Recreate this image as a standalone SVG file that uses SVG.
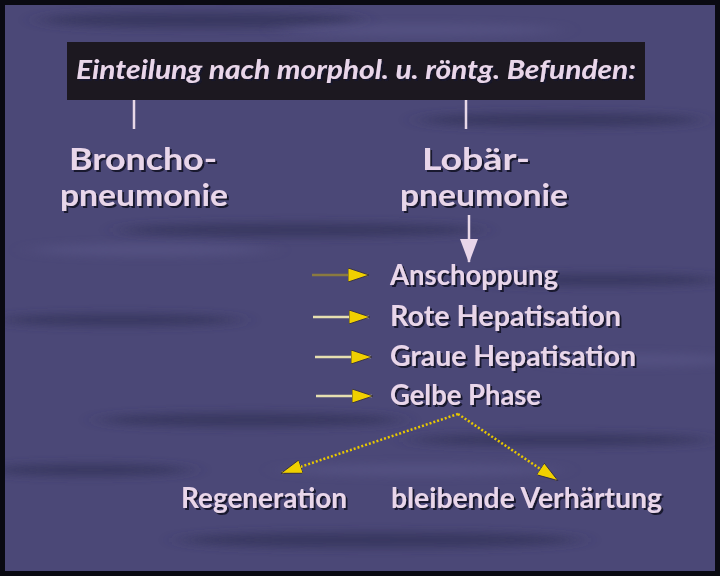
<svg xmlns="http://www.w3.org/2000/svg" width="720" height="576" viewBox="0 0 720 576">
<defs>
<style>
.t{font-family:Lato,"Liberation Sans",sans-serif;font-weight:700;fill:#e9d6ea;filter:url(#sh)}
.big{font-size:30px}
.mid{font-size:29px}
.hdr{font-size:27px;font-style:italic}
.ln{stroke:#e8d8e8;stroke-width:2.5}
.harr{stroke:#e6dfb0;stroke-width:2.5}
.dot{stroke:#e8c800;stroke-width:2.5;stroke-dasharray:2 2;fill:none}
</style>
<filter id="sh" x="-5%" y="-20%" width="110%" height="140%">
<feDropShadow dx="2" dy="2" stdDeviation="0.6" flood-color="#15122a" flood-opacity="0.95"/>
</filter>
<filter id="blur" x="-20%" y="-200%" width="140%" height="500%">
<feGaussianBlur stdDeviation="12 4"/>
</filter>
<marker id="ya" markerWidth="22" markerHeight="14" refX="20" refY="7" orient="auto" markerUnits="userSpaceOnUse">
<path d="M0,0 L21,7 L0,14 Z" fill="#f0d000" stroke="#2a2640" stroke-width="0.8"/>
</marker>
<marker id="wa" markerWidth="18" markerHeight="24" refX="9" refY="23" orient="0" markerUnits="userSpaceOnUse">
<path d="M0,0 L18,0 L9,24 Z" fill="#e9d6ea"/>
</marker>
</defs>
<rect width="720" height="576" fill="#4b4877"/>
<g filter="url(#blur)" fill="#36345c" opacity="0.8">
<ellipse cx="200" cy="20" rx="160" ry="8"/>
<ellipse cx="560" cy="120" rx="140" ry="7"/>
<ellipse cx="300" cy="230" rx="180" ry="7"/>
<ellipse cx="120" cy="320" rx="120" ry="6"/>
<ellipse cx="600" cy="280" rx="120" ry="6"/>
<ellipse cx="250" cy="420" rx="150" ry="7"/>
<ellipse cx="560" cy="440" rx="150" ry="6"/>
<ellipse cx="380" cy="540" rx="200" ry="8"/>
<ellipse cx="90" cy="470" rx="100" ry="6"/>
</g>
<g filter="url(#blur)" fill="#5a5788" opacity="0.6">
<ellipse cx="420" cy="30" rx="140" ry="6"/>
<ellipse cx="150" cy="250" rx="120" ry="6"/>
<ellipse cx="640" cy="360" rx="100" ry="6"/>
<ellipse cx="420" cy="470" rx="140" ry="6"/>
</g>
<rect x="0" y="0" width="720" height="576" fill="none" stroke="#0a0a12" stroke-width="10"/>

<g id="header">
<rect x="67" y="42" width="578" height="58" fill="#1c1820"/>
<text class="t hdr" x="76" y="79" textLength="560" lengthAdjust="spacingAndGlyphs">Einteilung nach morphol. u. röntg. Befunden:</text>
</g>
<g id="broncho">
<text class="t big" x="143" y="170" text-anchor="middle" textLength="148" lengthAdjust="spacingAndGlyphs">Broncho-</text>
<text class="t big" x="144" y="206" text-anchor="middle" textLength="168" lengthAdjust="spacingAndGlyphs">pneumonie</text>
</g>
<g id="lobaer">
<text class="t big" x="476" y="170" text-anchor="middle" textLength="108" lengthAdjust="spacingAndGlyphs">Lobär-</text>
<text class="t big" x="484" y="206" text-anchor="middle" textLength="168" lengthAdjust="spacingAndGlyphs">pneumonie</text>
</g>
<g id="anschoppung"><text class="t mid" x="390" y="285" textLength="168" lengthAdjust="spacingAndGlyphs">Anschoppung</text></g>
<g id="rote"><text class="t mid" x="390" y="326" textLength="231" lengthAdjust="spacingAndGlyphs">Rote Hepatisation</text></g>
<g id="graue"><text class="t mid" x="390" y="366" textLength="246" lengthAdjust="spacingAndGlyphs">Graue Hepatisation</text></g>
<g id="gelbe"><text class="t mid" x="390" y="405" textLength="151" lengthAdjust="spacingAndGlyphs">Gelbe Phase</text></g>
<g id="regeneration"><text class="t mid" x="181" y="508" textLength="166" lengthAdjust="spacingAndGlyphs">Regeneration</text></g>
<g id="verhaertung"><text class="t mid" x="391" y="508" textLength="271" lengthAdjust="spacingAndGlyphs">bleibende Verhärtung</text></g>

<g id="connectors">
<line class="ln" x1="134" y1="100" x2="134" y2="129"/>
<line class="ln" x1="466" y1="100" x2="466" y2="129"/>
<line class="ln" x1="469" y1="215" x2="469" y2="262" marker-end="url(#wa)"/>
<line x1="312" y1="275" x2="368" y2="275" stroke="#8a7a40" stroke-width="2.5" marker-end="url(#ya)"/>
<line class="harr" x1="313" y1="317" x2="369" y2="317" marker-end="url(#ya)"/>
<line class="harr" x1="315" y1="357" x2="371" y2="357" marker-end="url(#ya)"/>
<line class="harr" x1="316" y1="396" x2="372" y2="396" marker-end="url(#ya)"/>
<line class="dot" x1="458" y1="414" x2="282" y2="473" marker-end="url(#ya)"/>
<line class="dot" x1="458" y1="414" x2="557" y2="480" marker-end="url(#ya)"/>
</g>
</svg>
